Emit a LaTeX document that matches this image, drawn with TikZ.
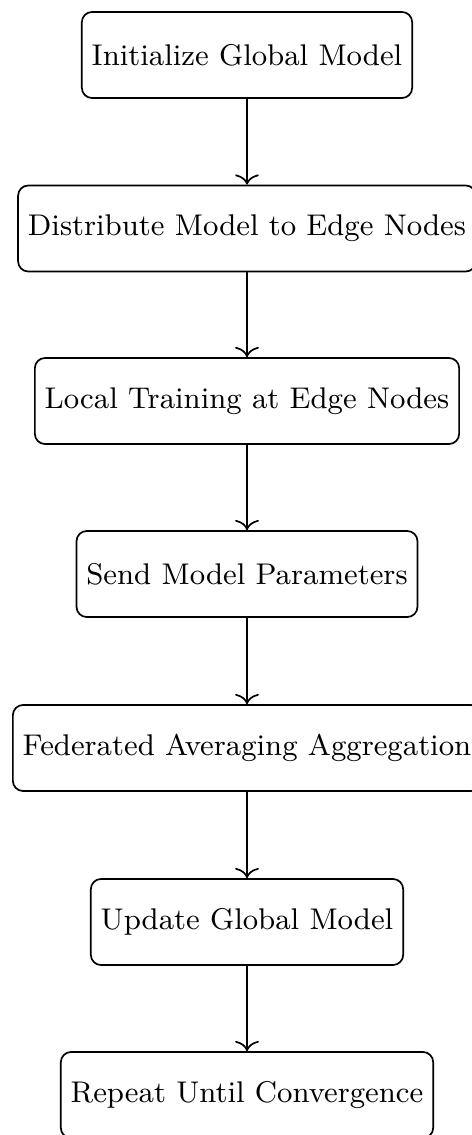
\documentclass[tikz,border=0pt]{standalone}
\usetikzlibrary{arrows.meta}
\begin{document}
\begin{tikzpicture}[x=0.294pt,y=-0.294pt,
  stepbox/.style={draw,line width=0.5pt,rounded corners=3pt,minimum height=25.3pt,inner sep=2.9pt,font=\fontsize{8.8}{10.5}\selectfont},
  flow/.style={draw,line width=0.5pt,-{To[length=3pt,width=7pt]}}]
\useasboundingbox (0,0) rectangle (472,1135);
\node[stepbox] (n1) at (247,55) {Initialize Global Model};
\node[stepbox] (n2) at (247,228.5) {Distribute Model to Edge Nodes};
\node[stepbox] (n3) at (247,401) {Local Training at Edge Nodes};
\node[stepbox] (n4) at (247,574) {Send Model Parameters};
\node[stepbox] (n5) at (247,748) {Federated Averaging Aggregation};
\node[stepbox] (n6) at (247,922) {Update Global Model};
\node[stepbox] (n7) at (247,1095) {Repeat Until Convergence};
\draw[flow] (n1) -- (n2);
\draw[flow] (n2) -- (n3);
\draw[flow] (n3) -- (n4);
\draw[flow] (n4) -- (n5);
\draw[flow] (n5) -- (n6);
\draw[flow] (n6) -- (n7);
\end{tikzpicture}
\end{document}
